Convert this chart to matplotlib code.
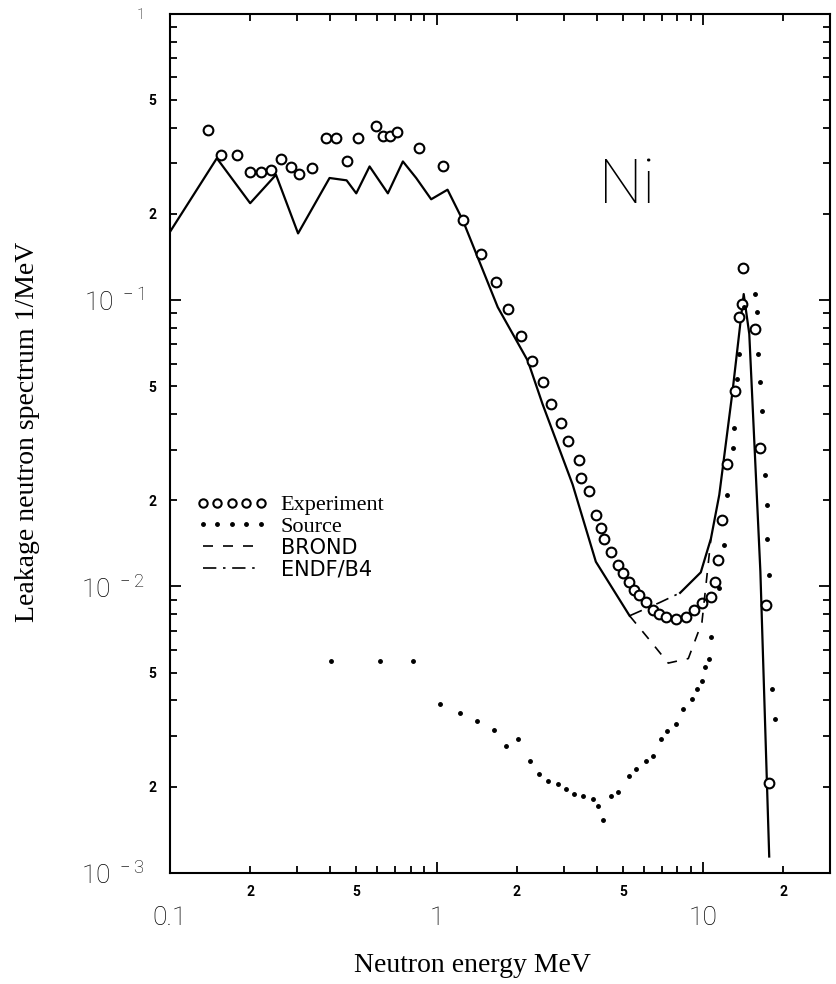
import matplotlib
matplotlib.use("Agg")
import matplotlib.pyplot as plt
from matplotlib.ticker import LogLocator, FuncFormatter
import numpy as np

plt.rcParams['font.family'] = ['Roboto', 'DejaVu Sans']
plt.rcParams['font.weight'] = 'light'
plt.rcParams['mathtext.default'] = 'regular'

# experiment (open circles)
exp_e = [0.139, 0.156, 0.179, 0.2, 0.219, 0.24, 0.26, 0.284, 0.304, 0.341,
         0.386, 0.421, 0.463, 0.507, 0.594, 0.63, 0.667, 0.71, 0.859, 1.056,
         1.255, 1.47, 1.674, 1.85, 2.076, 2.29, 2.5, 2.69, 2.93, 3.1,
         3.43, 3.49, 3.74, 3.96, 4.14, 4.26, 4.51, 4.78, 4.99, 5.28,
         5.52, 5.76, 6.1, 6.46, 6.84, 7.25, 7.9, 8.62, 9.25, 9.94,
         10.7, 11.1, 11.4, 11.8, 12.3, 13.2, 13.6, 14.0, 14.1, 15.7,
         16.4, 17.2, 17.7]
exp_y = [0.394, 0.322, 0.322, 0.281, 0.281, 0.285, 0.311, 0.291, 0.275, 0.289,
         0.368, 0.368, 0.305, 0.368, 0.407, 0.373, 0.373, 0.388, 0.34, 0.294,
         0.19, 0.145, 0.116, 0.0933, 0.0752, 0.0614, 0.0516, 0.0433, 0.0373, 0.0322,
         0.0277, 0.0239, 0.0215, 0.0178, 0.016, 0.0147, 0.01324, 0.01188, 0.0111, 0.0104,
         0.0097, 0.00932, 0.00884, 0.00826, 0.00804, 0.00783, 0.00772, 0.00783, 0.00826, 0.00872,
         0.0092, 0.0104, 0.0124, 0.0171, 0.0267, 0.0482, 0.0871, 0.097, 0.129, 0.0793,
         0.0305, 0.0086, 0.00206]

# source spectrum (dots)
src_e = [0.403, 0.612, 0.813, 1.03, 1.22, 1.42, 1.64, 1.82, 2.03, 2.24,
         2.43, 2.63, 2.85, 3.06, 3.29, 3.53, 3.85, 4.05, 4.22, 4.51,
         4.78, 5.28, 5.6, 6.1, 6.46, 6.95, 7.35, 7.9, 8.37, 9.12,
         9.5, 9.94, 10.2, 10.5, 10.7, 11.5, 12.0, 12.3, 12.9, 13.1,
         13.4, 13.6, 14.2, 15.7, 15.9, 16.1, 16.4, 16.7, 17.0, 17.3,
         17.4, 17.6, 18.2, 18.6]
src_y = [0.0055, 0.0055, 0.0055, 0.00389, 0.00361, 0.0034, 0.00315, 0.00277, 0.00293, 0.00246,
         0.00221, 0.00209, 0.00204, 0.00196, 0.00189, 0.00185, 0.00181, 0.00171, 0.00153, 0.00185,
         0.00191, 0.00218, 0.0023, 0.00246, 0.00256, 0.00293, 0.00313, 0.0033, 0.00373, 0.00405,
         0.00439, 0.00469, 0.00523, 0.00559, 0.00666, 0.00984, 0.01396, 0.0209, 0.0305, 0.0358,
         0.053, 0.0648, 0.0944, 0.105, 0.0908, 0.0648, 0.0516, 0.041, 0.0246, 0.0193,
         0.0147, 0.011, 0.00439, 0.00344]

# calculation, common part (solid)
calc_lo_e = [0.1, 0.15, 0.2, 0.25, 0.3025, 0.397, 0.46, 0.5, 0.561, 0.657,
             0.748, 0.839, 0.955, 1.10, 1.255, 1.697, 2.2, 2.5, 3.24, 3.96, 5.3]
calc_lo = [0.173, 0.313, 0.218, 0.274, 0.171, 0.267, 0.262, 0.236, 0.293, 0.236,
           0.305, 0.267, 0.225, 0.243, 0.19, 0.0945, 0.0614, 0.0433, 0.0227, 0.0122, 0.0079]
calc_hi_e = [8.2, 9.8, 10.7, 11.5, 12.9, 14.2, 14.9, 16.4, 17.7]
calc_hi = [0.0095, 0.0112, 0.0147, 0.0209, 0.0482, 0.105, 0.0762, 0.01126, 0.00114]

# where the two evaluations differ
brond_e = [5.3, 6.3, 7.4, 8.8, 9.9, 10.7]
brond = [0.0079, 0.0065, 0.0054, 0.0056, 0.0075, 0.0147]
endf_e = [5.3, 6.9, 8.2]
endf = [0.0079, 0.0088, 0.0095]

fig = plt.figure(figsize=(8.37, 9.84), dpi=100)
ax = fig.add_axes([0.203, 0.113, 0.789, 0.873])

ax.plot(calc_lo_e, calc_lo, '-', color='black', lw=1.6)
ax.plot(calc_hi_e, calc_hi, '-', color='black', lw=1.6)
ax.plot(exp_e, exp_y, 'o', mfc='white', mec='black', ms=7, mew=1.5, label='Experiment')
ax.plot(src_e, src_y, '.', color='black', ms=5, label='Source')
ax.plot(brond_e, brond, '--', dashes=(6, 6), color='black', lw=1.2, label='BROND')
ax.plot(endf_e, endf, '-.', dashes=(8, 4, 1.5, 4), color='black', lw=1.2, label='ENDF/B4')

ax.set_xscale('log')
ax.set_yscale('log')
ax.set_xlim(0.1, 30)
ax.set_ylim(1e-3, 1.0)

ax.set_xticks([0.1, 1, 10], ['0.1', '1', '10'])
ax.set_yticks([1e-3, 1e-2, 1e-1, 1],
              [r'$\mathregular{10^{\ -3}}$', r'$\mathregular{10^{\ -2}}$',
               r'$\mathregular{10^{\ -1}}$', '1'])
ax.xaxis.set_minor_locator(LogLocator(base=10, subs=range(2, 10)))
ax.yaxis.set_minor_locator(LogLocator(base=10, subs=range(2, 10)))

def minor_fmt(v, pos):
    m = round(v / 10 ** np.floor(np.log10(v) + 1e-9))
    return str(m) if m in (2, 5) else ''

ax.xaxis.set_minor_formatter(FuncFormatter(minor_fmt))
ax.yaxis.set_minor_formatter(FuncFormatter(minor_fmt))

ax.tick_params(which='both', direction='in', top=True, right=True, width=1.3)
ax.tick_params(which='major', length=8)
ax.tick_params(which='minor', length=5)
ax.tick_params(axis='x', which='major', labelsize=19, pad=24)
ax.tick_params(axis='y', which='major', labelsize=19, pad=18)
ax.tick_params(axis='x', which='minor', labelsize=10, pad=9)
ax.tick_params(axis='y', which='minor', labelsize=10, pad=10)
ax.get_yticklabels()[-1].set_fontsize(11)
for lab in ax.get_xticklabels(minor=True) + ax.get_yticklabels(minor=True):
    lab.set_fontweight('bold')
for s in ax.spines.values():
    s.set_linewidth(1.5)

leg = ax.legend(loc='upper left', bbox_to_anchor=(0.04, 0.44), frameon=False,
                fontsize=16, handlelength=3.2, labelspacing=0.05, handletextpad=0.6,
                numpoints=5, borderpad=0, borderaxespad=0)
for t in leg.get_texts()[:2]:
    t.set_family('Liberation Serif')
    t.set_fontweight('normal')
for t in leg.get_texts()[2:]:
    t.set_family('DejaVu Sans')
    t.set_fontweight('normal')
    t.set_fontsize(15)
leg.legend_handles[0].set_markersize(6)

ax.text(0.692, 0.80, 'Ni', transform=ax.transAxes, fontsize=44,
        ha='center', va='center')

fig.text(28 / 837, 1 - 432 / 984, 'Leakage neutron spectrum 1/MeV', rotation=90,
         family='Liberation Serif', fontweight='normal', fontsize=20,
         ha='center', va='center')
fig.text(472 / 837, 1 - 965 / 984, 'Neutron energy MeV',
         family='Liberation Serif', fontweight='normal', fontsize=20,
         ha='center', va='center')

fig.savefig('out.png', dpi=100)
